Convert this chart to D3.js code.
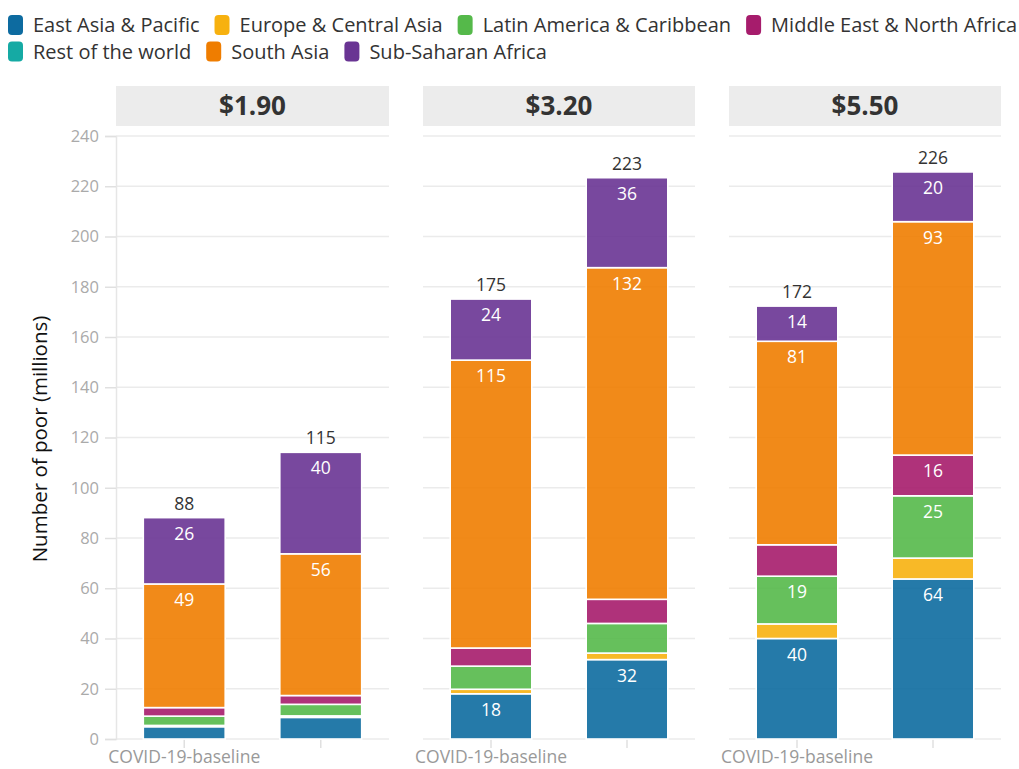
<!DOCTYPE html>
<html>
<head>
<meta charset="utf-8">
<script src="https://cdn.jsdelivr.net/npm/d3@7"></script>
<style>
  body { margin: 0; background: #fff; }
  svg { display: block; font-family: "Open Sans", sans-serif; }
</style>
</head>
<body>
<div id="chart"></div>
<script>
// regions stacked bottom-up, same order as legend
const REGIONS = ["East Asia & Pacific", "Europe & Central Asia", "Latin America & Caribbean",
  "Middle East & North Africa", "Rest of the world", "South Asia", "Sub-Saharan Africa"];
const REGION_COLORS = ["#0d6ba0", "#f7b10f", "#55b94a", "#a61c6c", "#15aaa4", "#ef7d00", "#693493"];

const PANELS = ["$1.90", "$3.20", "$5.50"];
const SCENARIOS = ["COVID-19-baseline", "COVID-19-downside"];
const TICK_LABELS = ["COVID-19-baseline", ""];

// values in millions, order: [$1.90 base, $1.90 down, $3.20 base, $3.20 down, $5.50 base, $5.50 down]
const eap  = [4.9, 8.6, 18.0, 31.6, 40.0, 63.7];
const eca  = [0.5, 0.6, 1.8, 2.6, 5.8, 8.3];
const lac  = [3.7, 4.6, 9.2, 11.8, 19.0, 24.8];
const mena = [3.4, 3.5, 7.2, 9.6, 12.5, 16.2];
const rest = [0, 0, 0, 0, 0, 0];
const sa   = [49.2, 56.4, 114.6, 132.0, 81.0, 92.9];
const ssa  = [26.4, 40.4, 24.3, 35.8, 14.0, 19.8];
const totals = [88, 115, 175, 223, 172, 226];

const Y_TICKS = [0, 20, 40, 60, 80, 100, 120, 140, 160, 180, 200, 220, 240];

const SERIES = [eap, eca, lac, mena, rest, sa, ssa];

const W = 1019, H = 769;
const svg = d3.select("#chart").append("svg").attr("width", W).attr("height", H);

/* Legend */
const legendRows = [[0, 1, 2, 3], [4, 5, 6]];
const legend = svg.append("g");
legendRows.forEach((row, ri) => {
  let xPos = 8;
  const cy = 25 + ri * 26.5;
  row.forEach(i => {
    legend.append("rect").attr("x", xPos).attr("y", cy - 10).attr("width", 15).attr("height", 20)
      .attr("rx", 4).attr("fill", REGION_COLORS[i]);
    const t = legend.append("text").attr("x", xPos + 25).attr("y", cy).attr("dy", "0.35em")
      .style("font-size", "20px").style("fill", "#333").text(REGIONS[i]);
    xPos += 25 + t.node().getComputedTextLength() + 15;
  });
});

/* Shared y scale */
const y = d3.scaleLinear().domain([0, 240]).range([739, 136]);

const panelX = [[116, 389], [423, 695], [729, 1001]];

// build one row per bar for d3.stack
const rows = [];
PANELS.forEach((p, pi) => {
  SCENARIOS.forEach((s, si) => {
    const k = pi * 2 + si;
    const r = { panel: p, scenario: s, total: totals[k] };
    REGIONS.forEach((reg, ri) => { r[reg] = SERIES[ri][k]; });
    rows.push(r);
  });
});
const stacked = d3.stack().keys(REGIONS)(rows);

PANELS.forEach((p, pi) => {
  const [x0, x1] = panelX[pi];
  const g = svg.append("g");

  // strip header
  g.append("rect").attr("x", x0).attr("y", 86).attr("width", x1 - x0).attr("height", 40)
    .attr("fill", "#ececec");
  g.append("text").attr("x", (x0 + x1) / 2).attr("y", 106).attr("dy", "0.36em")
    .attr("text-anchor", "middle").style("font-size", "26px").style("font-weight", "bold")
    .style("fill", "#333").text(p);

  // gridlines
  g.append("g").selectAll("line").data(Y_TICKS).enter().append("line")
    .attr("x1", x0).attr("x2", x1).attr("y1", d => y(d)).attr("y2", d => y(d))
    .attr("stroke", "#ebebeb").attr("stroke-width", 1.5);

  const x = d3.scaleBand().domain(SCENARIOS).range([x0, x1]).paddingInner(0.4).paddingOuter(0.2);

  if (pi === 0) {
    const ax = g.append("g").attr("transform", `translate(${x0},0)`)
      .call(d3.axisLeft(y).tickValues(Y_TICKS).tickSize(11).tickPadding(6));
    ax.select(".domain").attr("stroke", "#e6e6e6").attr("stroke-width", 1.5);
    ax.selectAll(".tick line").attr("stroke", "#e0e0e0").attr("stroke-width", 1.5);
    ax.selectAll("text").style("font-size", "16.5px").style("fill", "#aaa")
      .style("font-family", "'Open Sans', sans-serif");
  }

  const xa = g.append("g").attr("transform", `translate(0,${y(0)})`)
    .call(d3.axisBottom(x).tickSize(9).tickPadding(3).tickFormat((d, i) => TICK_LABELS[i]));
  xa.select(".domain").remove();
  xa.selectAll(".tick line").attr("stroke", "#e0e0e0").attr("stroke-width", 1.5);
  xa.selectAll("text").style("font-size", "17.5px").style("fill", "#999")
    .style("font-family", "'Open Sans', sans-serif");

  // stacked segments
  stacked.forEach((layer, li) => {
    const segs = layer.filter(d => d.data.panel === p && d[1] - d[0] > 0);
    g.selectAll(null).data(segs).enter().append("rect")
      .attr("x", d => x(d.data.scenario)).attr("width", x.bandwidth())
      .attr("y", d => y(d[1])).attr("height", d => y(d[0]) - y(d[1]))
      .attr("fill", REGION_COLORS[li]).attr("fill-opacity", 0.9)
      .attr("stroke", "#fff").attr("stroke-width", 1.6);

    g.selectAll(null).data(segs.filter(d => d[1] - d[0] >= 13)).enter().append("text")
      .attr("x", d => x(d.data.scenario) + x.bandwidth() / 2)
      .attr("y", d => y(d[1]) + 16).attr("dy", "0.35em")
      .attr("text-anchor", "middle").style("font-size", "17.5px").style("fill", "#fff")
      .text(d => Math.round(d[1] - d[0]));
  });

  // totals
  const top = stacked[stacked.length - 1].filter(d => d.data.panel === p);
  g.selectAll(null).data(top).enter().append("text")
    .attr("x", d => x(d.data.scenario) + x.bandwidth() / 2)
    .attr("y", d => y(d[1]) - 14).attr("dy", "0.35em")
    .attr("text-anchor", "middle").style("font-size", "17.5px").style("fill", "#333")
    .text(d => d.data.total);
});

svg.append("text").attr("transform", "rotate(-90)")
  .attr("x", -439).attr("y", 40).attr("dy", "0.35em").attr("text-anchor", "middle")
  .style("font-size", "20.5px").style("fill", "#111").text("Number of poor (millions)");
</script>
</body>
</html>
